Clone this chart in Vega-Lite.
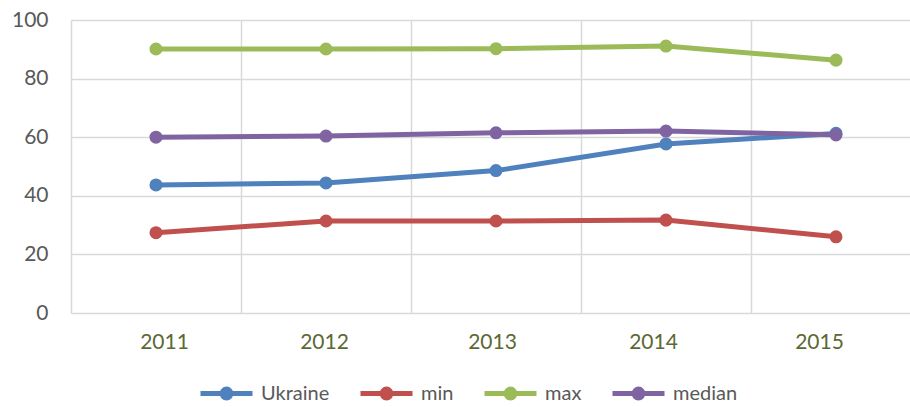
{
  "$schema": "https://vega.github.io/schema/vega-lite/v6.json",
  "width": 840,
  "height": 293,
  "autosize": {"type": "none"},
  "padding": {"left": 70, "top": 20, "right": 0, "bottom": 94},
  "background": "white",
  "config": {
    "font": "Lato",
    "view": {"stroke": null},
    "axis": {"title": null, "domain": false, "ticks": false, "gridColor": "#d9d9d9", "gridWidth": 1.5}
  },
  "data": {
    "values": [
      {"year": "2011", "series": "Ukraine", "value": 43.7},
      {"year": "2012", "series": "Ukraine", "value": 44.4},
      {"year": "2013", "series": "Ukraine", "value": 48.6},
      {"year": "2014", "series": "Ukraine", "value": 57.7},
      {"year": "2015", "series": "Ukraine", "value": 61.3},
      {"year": "2011", "series": "min", "value": 27.4},
      {"year": "2012", "series": "min", "value": 31.4},
      {"year": "2013", "series": "min", "value": 31.4},
      {"year": "2014", "series": "min", "value": 31.7},
      {"year": "2015", "series": "min", "value": 26.0},
      {"year": "2011", "series": "max", "value": 90.1},
      {"year": "2012", "series": "max", "value": 90.1},
      {"year": "2013", "series": "max", "value": 90.2},
      {"year": "2014", "series": "max", "value": 91.1},
      {"year": "2015", "series": "max", "value": 86.3},
      {"year": "2011", "series": "median", "value": 60.0},
      {"year": "2012", "series": "median", "value": 60.4},
      {"year": "2013", "series": "median", "value": 61.5},
      {"year": "2014", "series": "median", "value": 62.1},
      {"year": "2015", "series": "median", "value": 60.8}
    ]
  },
  "encoding": {
    "x": {
      "field": "year", "type": "ordinal",
      "scale": {"type": "band", "range": [1, 851], "paddingInner": 0, "paddingOuter": 0},
      "axis": {
        "labelAngle": 0, "tickBand": "extent", "grid": true, "labelColor": "#5b6834", "labelFontSize": 21, "labelPadding": 18,
        "labelOffset": {"condition": [
          {"test": "datum.value === '2011'", "value": 8},
          {"test": "datum.value === '2012'", "value": -2},
          {"test": "datum.value === '2013'", "value": -4},
          {"test": "datum.value === '2014'", "value": -13}
        ], "value": -17}
      }
    },
    "y": {
      "field": "value", "type": "quantitative",
      "scale": {"domain": [0, 100], "nice": false},
      "axis": {"values": [0, 20, 40, 60, 80, 100], "labelColor": "#595959", "labelFontSize": 21, "labelPadding": 22}
    },
    "color": {
      "field": "series", "type": "nominal",
      "scale": {"domain": ["Ukraine", "min", "max", "median"], "range": ["#4f81bd", "#c0504d", "#9bbb59", "#8064a2"]},
      "legend": {
        "title": null, "orient": "none", "direction": "horizontal", "legendX": 128, "legendY": 345,
        "symbolType": "M-1,0L1,0M-0.17,0A0.17,0.17,0,1,0,0.17,0A0.17,0.17,0,1,0,-0.17,0Z",
        "symbolSize": 2704, "symbolStrokeWidth": 5, "labelFontSize": 20, "labelColor": "#595959",
        "labelOffset": 6, "columnPadding": 20
      }
    }
  },
  "layer": [
    {"mark": {"type": "line", "strokeWidth": 5}},
    {"mark": {"type": "point", "filled": true, "size": 170, "opacity": 1}}
  ]
}
